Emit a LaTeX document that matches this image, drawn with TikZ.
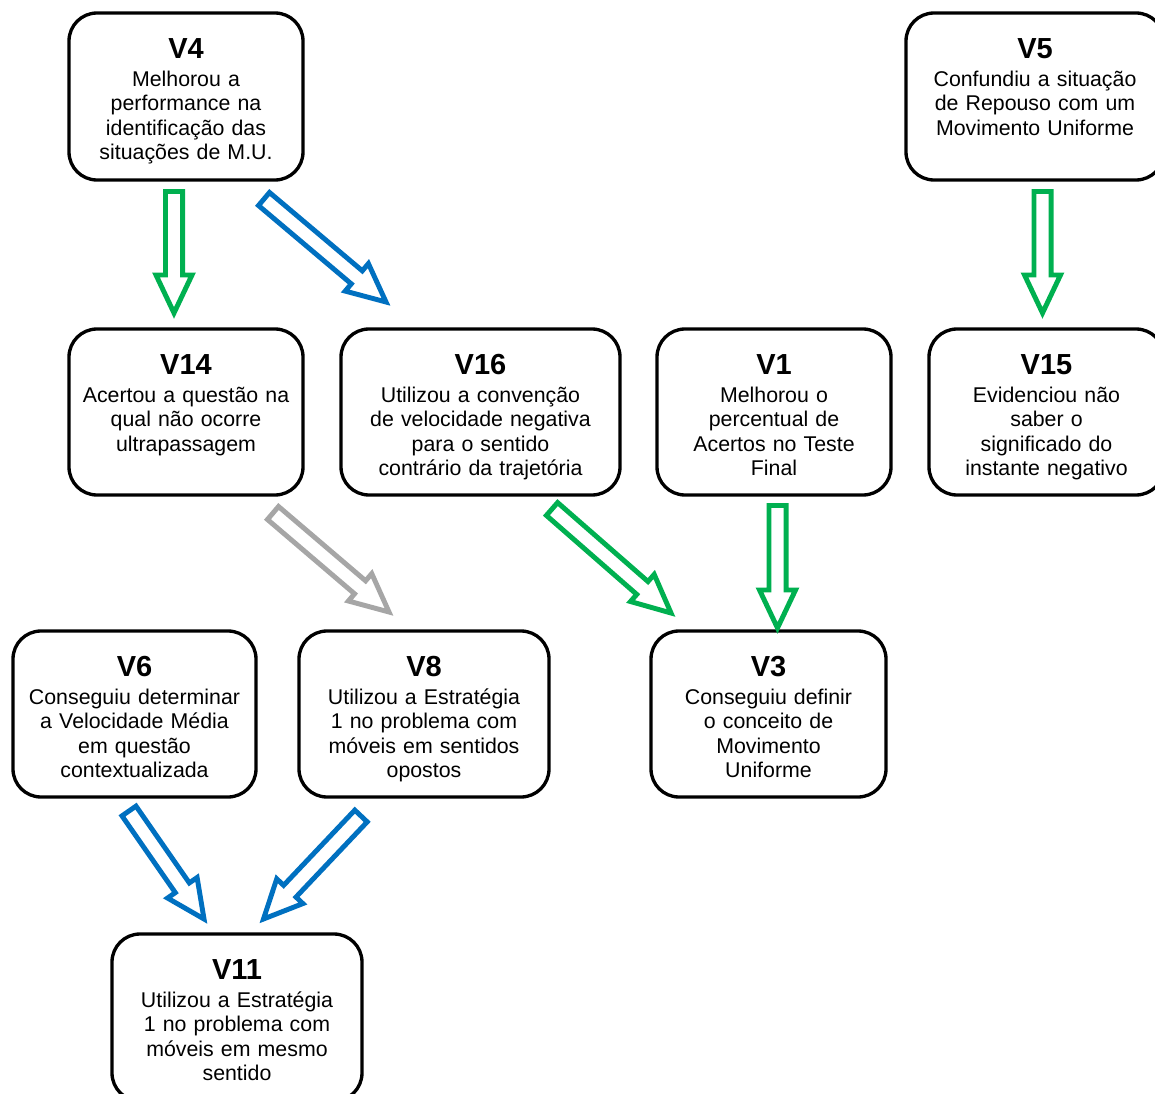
\documentclass[tikz,border=0pt]{standalone}
\usepackage{fontspec}
\setmainfont{Liberation Sans}
\usetikzlibrary{calc,fit}
\definecolor{agreen}{HTML}{00B050}
\definecolor{ablue}{HTML}{0070C0}
\definecolor{agray}{HTML}{A6A6A6}
\newcommand\aw{6.4pt}
\newcommand\ahw{13.5pt}
\newcommand\ahl{28.5pt}
\newcommand\blockarrow[3]{%
  \path[blockarr,draw=#1] let \p1=(#2), \p2=(#3),
    \n1={atan2(\y2-\y1,\x2-\x1)}, \n2={veclen(\x2-\x1,\y2-\y1)} in
    ($(\p1)+(\n1+90:\aw)$)
    -- ($(\p1)+(\n1:{\n2-\ahl})+(\n1+90:\aw)$)
    -- ($(\p1)+(\n1:{\n2-\ahl})+(\n1+90:\ahw)$)
    -- (\p2)
    -- ($(\p1)+(\n1:{\n2-\ahl})+(\n1-90:\ahw)$)
    -- ($(\p1)+(\n1:{\n2-\ahl})+(\n1-90:\aw)$)
    -- ($(\p1)+(\n1-90:\aw)$) -- cycle;}
\newcommand\vtitle[1]{{\fontsize{21.75}{24}\selectfont\bfseries #1\par}\vspace{2.3pt}}
\tikzset{
  vbox/.style={draw=black, line width=2.5pt, rounded corners=21pt, fill=white, inner sep=0pt},
  vtext/.style={anchor=north, inner sep=0pt, text width=230pt, align=center,
    font=\fontsize{16}{18.4}\selectfont},
  blockarr/.style={fill=white, line width=3.7pt, line join=miter, miter limit=10}
}
\begin{document}
\begin{tikzpicture}[x=0.75pt,y=-0.75pt]
\useasboundingbox (0,0) rectangle (1155,1094);
\clip (0,0) rectangle (1155,1094);
% boxes
\node[vbox, fit={(69,13) (303,180)}] (v4) {};
\node[vbox, fit={(906,13) (1164,180)}] (v5) {};
\node[vbox, fit={(69,329) (303,495)}] (v14) {};
\node[vbox, fit={(341,329) (620,495)}] (v16) {};
\node[vbox, fit={(657,329) (891,495)}] (v1) {};
\node[vbox, fit={(929,329) (1164,495)}] (v15) {};
\node[vbox, fit={(13,631) (256,797)}] (v6) {};
\node[vbox, fit={(299,631) (549,797)}] (v8) {};
\node[vbox, fit={(651,631) (886,797)}] (v3) {};
\node[vbox, fit={(112,934) (362,1101)}] (v11) {};
% texts
\node[vtext] (t4) at ([yshift=-20.2pt]v4.north) {\vtitle{V4}Melhorou a\\performance na\\identificação das\\situações de M.U.};
\node[vtext] (t5) at ([yshift=-20.2pt]v5.north) {\vtitle{V5}Confundiu a situação\\de Repouso com um\\Movimento Uniforme};
\node[vtext] (t14) at ([yshift=-20.2pt]v14.north) {\vtitle{V14}Acertou a questão na\\qual não ocorre\\ultrapassagem};
\node[vtext] (t16) at ([yshift=-20.2pt]v16.north) {\vtitle{V16}Utilizou a convenção\\de velocidade negativa\\para o sentido\\contrário da trajetória};
\node[vtext] (t1) at ([yshift=-20.2pt]v1.north) {\vtitle{V1}Melhorou o\\percentual de\\Acertos no Teste\\Final};
\node[vtext] (t15) at ([yshift=-20.2pt]v15.north) {\vtitle{V15}Evidenciou não\\saber o\\significado do\\instante negativo};
\node[vtext] (t6) at ([yshift=-20.2pt]v6.north) {\vtitle{V6}Conseguiu determinar\\a Velocidade Média\\em questão\\contextualizada};
\node[vtext] (t8) at ([yshift=-20.2pt]v8.north) {\vtitle{V8}Utilizou a Estratégia\\1 no problema com\\móveis em sentidos\\opostos};
\node[vtext] (t3) at ([yshift=-20.2pt]v3.north) {\vtitle{V3}Conseguiu definir\\o conceito de\\Movimento\\Uniforme};
\node[vtext] (t11) at ([yshift=-20.2pt]v11.north) {\vtitle{V11}Utilizou a Estratégia\\1 no problema com\\móveis em mesmo\\sentido};
% arrow ends
\coordinate (a1s) at (174,191.5);  \coordinate (a1e) at (174,313);
\coordinate (a2s) at (264,199);    \coordinate (a2e) at (386,302);
\coordinate (a3s) at (1042.5,191.5); \coordinate (a3e) at (1042.5,313);
\coordinate (a4s) at (273,513);    \coordinate (a4e) at (389,612);
\coordinate (a5s) at (552,509);    \coordinate (a5e) at (671,613);
\coordinate (a6s) at (777.5,505.5);  \coordinate (a6e) at (777.5,628);
\coordinate (a7s) at (129,811);    \coordinate (a7e) at (204,919);
\coordinate (a8s) at (361,816);    \coordinate (a8e) at (263.5,919);
% arrows
\blockarrow{agreen}{a1s}{a1e}
\blockarrow{ablue}{a2s}{a2e}
\blockarrow{agreen}{a3s}{a3e}
\blockarrow{agray}{a4s}{a4e}
\blockarrow{agreen}{a5s}{a5e}
\blockarrow{agreen}{a6s}{a6e}
\blockarrow{ablue}{a7s}{a7e}
\blockarrow{ablue}{a8s}{a8e}
\end{tikzpicture}
\end{document}
